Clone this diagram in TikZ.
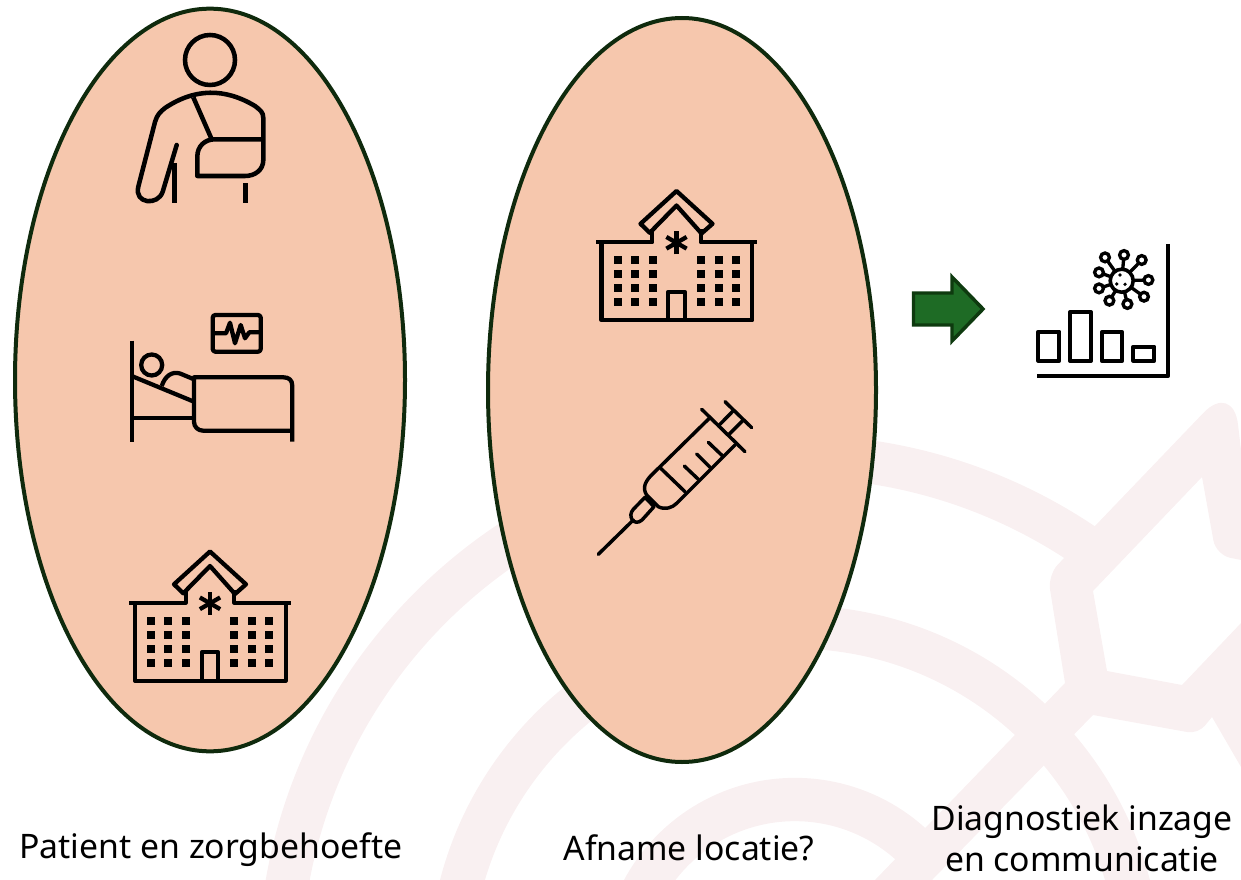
\documentclass[tikz,border=0pt]{standalone}
\usepackage{fontspec}
\setmainfont{Noto Sans}
\usetikzlibrary{shapes.geometric}
\definecolor{wmark}{HTML}{F9F0F1}
\definecolor{zonefill}{HTML}{F6C7AD}
\definecolor{zoneline}{HTML}{0F2A0D}
\definecolor{arrowfill}{HTML}{1E6B25}
\definecolor{arrowline}{HTML}{0E3A0F}
\tikzset{
  zone/.style={ellipse,draw=zoneline,fill=zonefill,line width=3pt,inner sep=0pt},
  icon/.style={draw=black,line width=3.2pt,line join=round},
  thinicon/.style={draw=black,line width=2.6pt,line join=round,line cap=round},
  band/.style={draw=wmark,line width=32.5pt},
  caption/.style={font=\fontsize{25.3}{32}\selectfont,align=center,inner sep=0pt},
  hospital/.pic={
    \draw [icon] (0,11.5) -- (36,44.3) -- (25,54) -- (0,26) -- (-26.7,53.3) -- (-36,44.3) -- cycle;
    \draw [icon] (-24.3,50) -- (-24.3,62.7) -- (-80.7,62.7);
    \draw [icon] (24.3,50) -- (24.3,62.7) -- (80.7,62.7);
    \draw [icon] (-75,62.7) -- (-75,140.7) -- (75.7,140.7) -- (75.7,62.7);
    \draw [icon] (-8.3,140.7) -- (-8.3,112.3) -- (8.3,112.3) -- (8.3,140.7);
    \foreach \a in {90,30,150}
      \draw [icon] (\a:11.7) ++(0,63.3) -- ++(\a+180:23.4);
    \foreach \x in {-59,-42,-24,24,42,59}
      \foreach \y in {81,95,109,123}
        \fill [black] (\x-4,\y-4) rectangle (\x+4,\y+4);
  }
}
\begin{document}
\begin{tikzpicture}[x=0.75pt,y=-0.75pt]
\useasboundingbox (0,0) rectangle (1241,880);
% watermark
\coordinate (wm) at (795,972);
\draw [band] (wm) ++(180:515.5) arc (180:306:515.5);
\draw [band] (wm) ++(180:345) arc (180:362:345);
\draw [band] (wm) ++(180:172.5) arc (180:313:172.5);
\fill [wmark] (1094,527) [rounded corners=32pt] -- (1233,382) [sharp corners] -- (1241,450) -- (1241,560)
  [rounded corners=11pt] -- (1216,555) [sharp corners] -- (1202,477) -- (1093,591) -- (1107,671) -- (1182,685)
  -- (1241,623) -- (1241,767) -- (1212,717) [rounded corners=8pt] -- (1198,734) [sharp corners] -- (1093,715)
  -- (932,880) -- (875,880) -- (1065,683) [rounded corners=11pt] -- (1047.7,575) [sharp corners] -- cycle;
% zones
\node [zone,minimum width=292.5pt,minimum height=557pt] (patient) at (210,380) {};
\node [zone,minimum width=291pt,minimum height=558pt] (afname) at (682,390) {};
% arm in sling
\draw [icon,line width=3.4pt] (210,60) circle (25);
\draw [icon,line width=3.4pt,line cap=round] (176.7,145) -- (162.7,191.7) .. controls (158,206) and (134,204) .. (138.3,186.7)
  -- (155,122) .. controls (157,115) and (160,112) .. (165,108) .. controls (195,88) and (225,88) .. (255,106)
  .. controls (260,110) and (263.3,112) .. (263.3,118) -- (263.3,160) .. controls (263.3,170) and (255,176) .. (245,176)
  -- (197.3,176) -- (197.3,156.7) .. controls (197.3,146) and (205,139.3) .. (215,139.3) -- (263.3,139.3);
\draw [icon,line width=3.4pt] (174.3,163) -- (174.3,203.5);
\draw [icon,line width=3.4pt] (193.3,97.3) -- (211.7,139.3);
\draw [icon,line width=3.4pt] (245.7,183.3) -- (245.7,203.5);
% patient in bed
\draw [icon] (131.7,340.7) -- (131.7,441.7);
\draw [icon] (151.7,365) circle (10.5);
\draw [icon] (131.7,376) -- (194,401.7);
\draw [icon] (131.7,418.3) -- (194,418.3);
\draw [icon] (161.7,386) .. controls (165,376) and (172,371) .. (180,373.5) -- (194,379.3);
\draw [icon] (292.3,441.7) -- (292.3,386) .. controls (292.3,380) and (289,377.3) .. (283.3,377.3) -- (194,377.3)
  -- (194,421.7) .. controls (194,427) and (198,430.7) .. (203.3,430.7) -- (292.3,430.7);
\draw [icon,rounded corners=2pt] (212.7,315) rectangle (260.7,351.7);
\draw [icon] (213.3,333.3) -- (226,333.3) -- (230,322.7) -- (235,343.3) -- (240.7,325) -- (245,338.3) -- (249.3,332.3) -- (260.7,332.3);
% hospitals
\pic at (210,540) {hospital};
\pic at (676.5,179.5) {hospital};
% syringe
\draw [thinicon] (598.3,554.3) -- (633.3,520);
\draw [thinicon] (645,497.3) -- (633.3,509.3) .. controls (627,516) and (634,527) .. (642,520) -- (654,506.7) -- cycle;
\draw [thinicon] (709.3,418.3) -- (653.3,473.3) .. controls (645,481) and (642,488) .. (646.7,495) -- (658.3,506.7)
  .. controls (665,510) and (672,508) .. (676.7,503.3) -- (735,445);
\draw [thinicon] (701.7,409.3) -- (745,451.7);
\draw [thinicon] (718.3,426) -- (733.3,410.7);
\draw [thinicon] (728.3,435) -- (743.3,420);
\draw [thinicon] (725,401.7) -- (751.7,427.7);
\draw [thinicon] (660.7,468.3) -- (685,491.7);
\draw [thinicon] (684.3,466) -- (698.3,479.3);
\draw [thinicon] (696.7,454) -- (710,467.3);
\draw [thinicon] (708.3,442.3) -- (722.3,455.7);
% arrow
\draw [fill=arrowfill,draw=arrowline,line width=2.6pt] (913.5,293) -- (952,293) -- (952,277) -- (983,309) -- (952,341) -- (952,325) -- (913.5,325) -- cycle;
% chart
\draw [icon] (1168.3,244) -- (1168.3,375.7) -- (1037.3,375.7);
\draw [icon] (1038.3,331.7) rectangle (1059.3,360.7);
\draw [icon] (1070,312.3) rectangle (1091,360.7);
\draw [icon] (1101.7,332.3) rectangle (1122.3,360.7);
\draw [icon] (1133.3,346.7) rectangle (1154.3,360.7);
% virus
\foreach \a/\b in {2.3/-25.7,-16.7/-23.3,20/-20.7,-22.7/-8.3,26.7/-0.7,-22.7/7.7,22.3/16,-12.3/20,5.7/23.3} {
  \draw [line width=2.5pt] (1121.7,280.7) -- ++(\a,\b);
  \draw [line width=2.5pt,fill=white] (1121.7,280.7) ++(\a,\b) circle (4.4);
}
\draw [line width=2.7pt,fill=white] (1121.7,280.7) circle (11.5);
\fill (1120,275) circle (1.8);
\fill (1116.7,284) circle (1.8);
\fill (1125,284.3) circle (1.8);
% captions
\node [caption,anchor=base] (patienttxt) at (211,858) {Patient en zorgbehoefte};
\node [caption,anchor=base] (afnametxt) at (689,860) {Afname locatie?};
\node [caption,anchor=base] (diagtxt) at (1082,830) {Diagnostiek inzage};
\node [caption,anchor=base] (commtxt) at (1082,871) {en communicatie};
\end{tikzpicture}
\end{document}
